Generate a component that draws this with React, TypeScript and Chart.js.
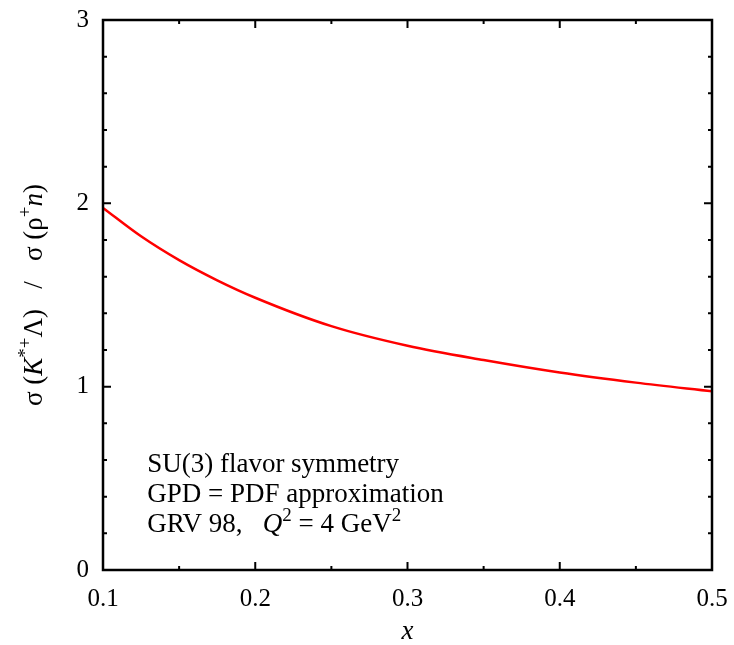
import React, { useEffect, useRef } from 'react';
import { Chart, registerables } from 'chart.js';

Chart.register(...registerables);

// Data
const xValues = [0.1, 0.125, 0.15, 0.175, 0.2, 0.25, 0.3, 0.35, 0.4, 0.45, 0.5];
const ratioValues = [1.975, 1.82, 1.69, 1.58, 1.485, 1.33, 1.223, 1.145, 1.077, 1.022, 0.975];

const xTickStep = 0.1;
const xMinorStep = 0.05;
const yTickStep = 1;
const yMinorStep = 0.2;
const xRange = [0.1, 0.5];
const yRange = [0, 3];

const annotationLines = [
  'SU(3) flavor symmetry',
  'GPD = PDF approximation',
];

const SERIF = "'Liberation Serif', 'Times New Roman', serif";

type Seg = { t: string; italic?: boolean; sup?: boolean };

function drawSegs(ctx: CanvasRenderingContext2D, segs: Seg[], x: number, y: number, size: number) {
  let cx = x;
  for (const s of segs) {
    const fs = s.sup ? Math.round(size * 0.72) : size;
    ctx.font = `${s.italic ? 'italic ' : ''}${fs}px ${SERIF}`;
    ctx.fillText(s.t, cx, s.sup ? y - size * 0.42 : y);
    cx += ctx.measureText(s.t).width;
  }
  return cx - x;
}

function measureSegs(ctx: CanvasRenderingContext2D, segs: Seg[], size: number) {
  let w = 0;
  for (const s of segs) {
    const fs = s.sup ? Math.round(size * 0.72) : size;
    ctx.font = `${s.italic ? 'italic ' : ''}${fs}px ${SERIF}`;
    w += ctx.measureText(s.t).width;
  }
  return w;
}

const framePlugin = {
  id: 'frameTicks',
  afterDraw(chart: any) {
    const { ctx, chartArea } = chart;
    const { left, right, top, bottom } = chartArea;
    const xs = chart.scales.x;
    const ys = chart.scales.y;
    ctx.save();
    ctx.strokeStyle = '#000';
    ctx.lineWidth = 2;
    ctx.lineCap = 'butt';
    ctx.beginPath();
    const line = (x1: number, y1: number, x2: number, y2: number) => {
      ctx.moveTo(x1, y1);
      ctx.lineTo(x2, y2);
    };
    const nx = Math.round((xs.max - xs.min) / xMinorStep);
    for (let i = 0; i <= nx; i++) {
      const v = xs.min + i * xMinorStep;
      const px = xs.getPixelForValue(v);
      const major = i % Math.round(xTickStep / xMinorStep) === 0;
      const len = major ? 8 : 4;
      line(px, bottom, px, bottom - len);
      line(px, top, px, top + len);
    }
    const ny = Math.round((ys.max - ys.min) / yMinorStep);
    for (let i = 0; i <= ny; i++) {
      const v = ys.min + i * yMinorStep;
      const py = ys.getPixelForValue(v);
      const major = i % Math.round(yTickStep / yMinorStep) === 0;
      const len = major ? 8 : 4;
      line(left, py, left + len, py);
      line(right, py, right - len, py);
    }
    ctx.stroke();
    ctx.lineWidth = 2.5;
    ctx.strokeRect(left, top, right - left, bottom - top);

    ctx.fillStyle = '#000';
    ctx.textBaseline = 'alphabetic';
    ctx.textAlign = 'left';

    // annotation
    const ax = xs.getPixelForValue(0.129);
    const size = 27;
    let by = 472;
    for (const l of annotationLines) {
      drawSegs(ctx, [{ t: l }], ax, by, size);
      by += 30;
    }
    drawSegs(
      ctx,
      [
        { t: 'GRV 98,   ' },
        { t: 'Q', italic: true },
        { t: '2', sup: true },
        { t: ' = 4 GeV' },
        { t: '2', sup: true },
      ],
      ax,
      by,
      size
    );

    // x axis title
    ctx.font = `italic 27px ${SERIF}`;
    ctx.textAlign = 'center';
    ctx.fillText('x', (left + right) / 2, 639);

    // y axis title
    const ysegs: Seg[] = [
      { t: 'σ (' },
      { t: 'K', italic: true },
      { t: '*+', sup: true },
      { t: 'Λ)' },
      { t: '   /   ' },
      { t: 'σ (ρ' },
      { t: '+', sup: true },
      { t: 'n', italic: true },
      { t: ')' },
    ];
    ctx.textAlign = 'left';
    const tsize = 27;
    const w = measureSegs(ctx, ysegs, tsize);
    ctx.translate(42, (top + bottom) / 2);
    ctx.rotate(-Math.PI / 2);
    drawSegs(ctx, ysegs, -w / 2, 0, tsize);
    ctx.restore();
  },
};

export default function App() {
  const ref = useRef<HTMLCanvasElement>(null);
  useEffect(() => {
    document.body.style.margin = '0';
    const canvas = ref.current!;
    const chart = new Chart(canvas, {
      type: 'line',
      data: {
        datasets: [
          {
            data: xValues.map((x, i) => ({ x, y: ratioValues[i] })),
            borderColor: '#ff0000',
            borderWidth: 2.5,
            pointRadius: 0,
            fill: false,
            cubicInterpolationMode: 'monotone',
          },
        ],
      },
      options: {
        responsive: false,
        animation: false,
        layout: { autoPadding: false, padding: { top: 20, right: 22, left: 0, bottom: 0 } },
        plugins: { legend: { display: false }, tooltip: { enabled: false } },
        scales: {
          x: {
            type: 'linear',
            min: xRange[0],
            max: xRange[1],
            grid: { display: false, drawTicks: false },
            border: { display: false },
            ticks: {
              stepSize: xTickStep,
              padding: 14,
              color: '#000',
              font: { family: SERIF, size: 25 },
              maxRotation: 0,
              callback: (v: any) => Number(v).toFixed(1),
            },
            afterFit: (s: any) => {
              s.height = 75;
              s.paddingLeft = 0;
              s.paddingRight = 0;
              s.paddingTop = 0;
              s.paddingBottom = 0;
            },
          },
          y: {
            type: 'linear',
            min: yRange[0],
            max: yRange[1],
            grid: { display: false, drawTicks: false },
            border: { display: false },
            ticks: {
              stepSize: yTickStep,
              padding: 14,
              color: '#000',
              font: { family: SERIF, size: 25 },
              callback: (v: any) => String(v),
            },
            afterFit: (s: any) => {
              s.width = 103;
              s.paddingLeft = 0;
              s.paddingRight = 0;
              s.paddingTop = 0;
              s.paddingBottom = 0;
            },
          },
        },
      },
      plugins: [framePlugin],
    } as any);
    return () => chart.destroy();
  }, []);
  return (
    <div style={{ position: 'absolute', left: 0, top: 0, width: 734, height: 645, background: '#fff' }}>
      <canvas ref={ref} width={734} height={645} style={{ display: 'block' }} />
    </div>
  );
}
